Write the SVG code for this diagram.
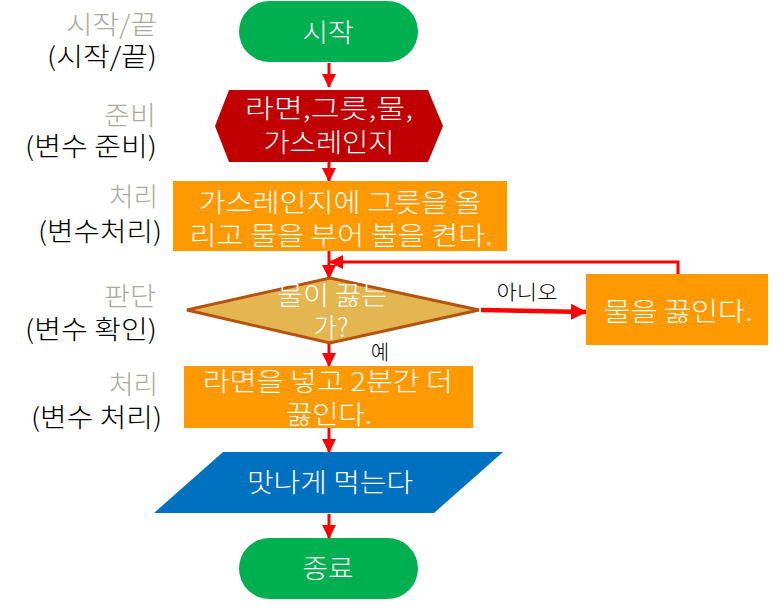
<svg xmlns="http://www.w3.org/2000/svg" width="784" height="610" viewBox="0 0 784 610">
<style>
text{font-family:"Noto Sans CJK KR","Liberation Sans",sans-serif;font-weight:300}
.lg{font-size:26px;fill:#A9AC9C;text-anchor:end}
.lb{font-size:26px;fill:#000;text-anchor:end}
.nt{font-size:26px;fill:#fff;text-anchor:middle}
.el{font-size:20px;fill:#000;text-anchor:middle}
.c{stroke:#FF0000;stroke-width:3;fill:none}
.orange{fill:#FF9900}
</style>
<defs>
<marker id="ah" markerUnits="userSpaceOnUse" markerWidth="14" markerHeight="14" viewBox="0 0 14 14" refX="13" refY="7" orient="auto">
<path d="M0,0 L14,7 L0,14 Z" fill="#FF0000"/>
</marker>
<marker id="ahb" markerUnits="userSpaceOnUse" markerWidth="16" markerHeight="16" viewBox="0 0 16 16" refX="15" refY="8" orient="auto">
<path d="M0,0 L16,8 L0,16 Z" fill="#FF0000"/>
</marker>
</defs>
<g id="labels">
<text class="lg" x="157" y="34" textLength="91" lengthAdjust="spacingAndGlyphs">시작/끝</text>
<text class="lb" x="157" y="66" textLength="110" lengthAdjust="spacingAndGlyphs">(시작/끝)</text>
<text class="lg" x="156" y="125" textLength="52" lengthAdjust="spacingAndGlyphs">준비</text>
<text class="lb" x="157" y="156" textLength="132" lengthAdjust="spacingAndGlyphs">(변수 준비)</text>
<text class="lg" x="158" y="206" textLength="49" lengthAdjust="spacingAndGlyphs">처리</text>
<text class="lb" x="162" y="241" textLength="124" lengthAdjust="spacingAndGlyphs">(변수처리)</text>
<text class="lg" x="156" y="306" textLength="52" lengthAdjust="spacingAndGlyphs">판단</text>
<text class="lb" x="157" y="339" textLength="132" lengthAdjust="spacingAndGlyphs">(변수 확인)</text>
<text class="lg" x="158" y="394" textLength="49" lengthAdjust="spacingAndGlyphs">처리</text>
<text class="lb" x="162" y="427" textLength="131" lengthAdjust="spacingAndGlyphs">(변수 처리)</text>
</g>
<g id="connectors">
<line class="c" x1="329" y1="63" x2="329" y2="87" marker-end="url(#ah)"/>
<line class="c" x1="329" y1="162" x2="329" y2="181" marker-end="url(#ah)"/>
<line class="c" x1="329" y1="251" x2="329" y2="278" marker-end="url(#ah)"/>
<polyline class="c" points="678,274 678,262 330,262" marker-end="url(#ah)"/>
<line class="c" style="stroke-width:4.5" x1="481" y1="310" x2="586" y2="312" marker-end="url(#ahb)"/>
<text class="el" x="527" y="300" textLength="61" lengthAdjust="spacingAndGlyphs">아니오</text>
<line class="c" x1="329" y1="343" x2="329" y2="366" marker-end="url(#ah)"/>
<text class="el" x="380" y="360">예</text>
<line class="c" x1="329" y1="428" x2="329" y2="452" marker-end="url(#ah)"/>
<line class="c" x1="329" y1="514" x2="329" y2="538" marker-end="url(#ah)"/>
</g>
<g id="start">
<rect x="239" y="1" width="179" height="61" rx="30.5" fill="#00B050"/>
<text class="nt" x="328" y="42" textLength="51" lengthAdjust="spacingAndGlyphs">시작</text>
</g>
<g id="prepare">
<polygon points="215,126 229,90 428,90 443,126 428,162 229,162" fill="#C00000"/>
<text class="nt" x="329" y="118" textLength="168" lengthAdjust="spacingAndGlyphs">라면,그릇,물,</text>
<text class="nt" x="329" y="152" textLength="131" lengthAdjust="spacingAndGlyphs">가스레인지</text>
</g>
<g id="process1">
<rect class="orange" x="173" y="181" width="334" height="70"/>
<text class="nt" x="340" y="212" textLength="283" lengthAdjust="spacingAndGlyphs">가스레인지에 그릇을 올</text>
<text class="nt" x="341" y="245" textLength="303" lengthAdjust="spacingAndGlyphs">리고 물을 부어 불을 켠다.</text>
</g>
<g id="decision">
<polygon points="187,310 330,278 479,310 330,343" fill="#E4B652" stroke="#B5520E" stroke-width="3"/>
<text class="nt" x="332" y="305" textLength="110" lengthAdjust="spacingAndGlyphs">물이 끓는</text>
<text class="nt" x="331" y="337" textLength="35" lengthAdjust="spacingAndGlyphs">가?</text>
</g>
<g id="boil">
<rect class="orange" x="586" y="274" width="182" height="71"/>
<text class="nt" x="678" y="321" textLength="149" lengthAdjust="spacingAndGlyphs">물을 끓인다.</text>
</g>
<g id="process2">
<rect class="orange" x="184" y="366" width="289" height="62"/>
<text class="nt" x="328" y="391" textLength="250" lengthAdjust="spacingAndGlyphs">라면을 넣고 2분간 더</text>
<text class="nt" x="329" y="424" textLength="86" lengthAdjust="spacingAndGlyphs">끓인다.</text>
</g>
<g id="eat">
<polygon points="223,452 503,452 434,513 154,513" fill="#0070C0"/>
<text class="nt" x="330" y="492" textLength="166" lengthAdjust="spacingAndGlyphs">맛나게 먹는다</text>
</g>
<g id="end">
<rect x="239" y="538" width="179" height="61" rx="30.5" fill="#00B050"/>
<text class="nt" x="328" y="578" textLength="51" lengthAdjust="spacingAndGlyphs">종료</text>
</g>
</svg>
